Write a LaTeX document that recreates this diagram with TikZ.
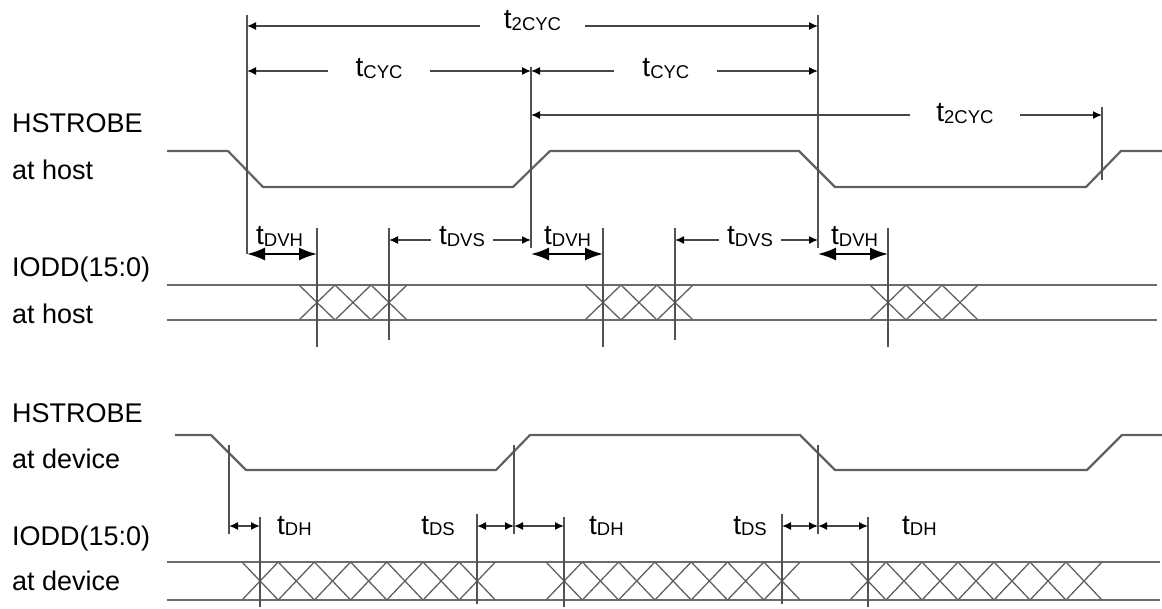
\documentclass[tikz,border=0pt]{standalone}
\usepackage{fontspec}
\setmainfont{Liberation Sans}
\usetikzlibrary{arrows.meta}
\newcommand{\tsub}[1]{{\fontsize{28}{30}\selectfont t\fontsize{18.5}{20}\selectfont\raisebox{-1.5pt}{#1}}}
\begin{document}
\begin{tikzpicture}[x=1pt,y=-1pt,
    wave/.style={draw=black!62,line width=2.2pt,line join=round},
    bus/.style={draw=black!58,line width=2.6pt},
    xline/.style={draw=black!62,line width=1.3pt},
    vline/.style={draw=black!68,line width=1.4pt},
    dim/.style={draw=black!72,line width=1.5pt,<->,>={Latex[length=9pt,width=8pt,color=black]}},
    bigdim/.style={draw=black,line width=1.8pt,<->,>={Latex[length=18pt,width=13pt]}},
    gap/.style={fill=white,inner xsep=#1,inner ysep=2pt,anchor=base},
    gap/.default=26pt,
    sig/.style={font=\fontsize{27}{30}\selectfont,anchor=base west,inner sep=0pt},
    tl/.style={inner sep=0pt}]
  \useasboundingbox (0,0) rectangle (1162,609);

  % signal names
  \node[sig] (hsh) at (12,133) {HSTROBE};
  \node[sig] (hsha) at (12,180) {at host};
  \node[sig] (ddh) at (12,277) {IODD(15:0)};
  \node[sig] (ddha) at (12,324) {at host};
  \node[sig] (hsd) at (12,422) {HSTROBE};
  \node[sig] (hsda) at (12,468) {at device};
  \node[sig] (ddd) at (12,545) {IODD(15:0)};
  \node[sig] (ddda) at (12,590) {at device};

  % waveforms
  \draw[wave] (167,151) -- (228,151) -- (263,187) -- (513,187) -- (550,151)
    -- (799,151) -- (835,187) -- (1086,187) -- (1121,151) -- (1162,151);
  \draw[wave] (175,435) -- (211,435) -- (246,470) -- (496,470) -- (530,435)
    -- (800,435) -- (835,470) -- (1087,470) -- (1122,435) -- (1162,435);
  \draw[bus] (167,285) -- (1157,285);
  \draw[bus] (167,320) -- (1157,320);
  \draw[bus] (167,562) -- (1160,562);
  \draw[bus] (167,600) -- (1160,600);
  \foreach \x in {299,585,870}
    \foreach \i in {0,1,2}
      \draw[xline] ({\x+36*\i},285) -- ({\x+36*\i+36},320)
        ({\x+36*\i},320) -- ({\x+36*\i+36},285);
  \foreach \x/\w in {242/36.2,546/36.3,850/36}
    \foreach \i in {0,...,6}
      \draw[xline] ({\x+\w*\i},562) -- ({\x+\w*\i+\w},600)
        ({\x+\w*\i},600) -- ({\x+\w*\i+\w},562);

  % timing edges, host
  \coordinate (A) at (247,0);
  \coordinate (B) at (531,0);
  \coordinate (C) at (818,0);
  \coordinate (D) at (1102,0);
  \coordinate (h1) at (317,0);
  \coordinate (h2) at (603,0);
  \coordinate (h3) at (888,0);
  \coordinate (s1) at (389,0);
  \coordinate (s2) at (675,0);
  \draw[vline] (A |- 0,15) -- (A |- 0,254);
  \draw[vline] (B |- 0,67) -- (B |- 0,248);
  \draw[vline] (C |- 0,15) -- (C |- 0,248);
  \draw[vline] (D |- 0,107) -- (D |- 0,180);
  \foreach \n in {h1,h2,h3}
    \draw[vline] (\n |- 0,228) -- (\n |- 0,347);
  \foreach \n in {s1,s2}
    \draw[vline] (\n |- 0,228) -- (\n |- 0,340);

  \draw[dim] (A |- 0,26) -- node[gap=24pt,pos=0.5,yshift=-3pt] (cyc2a) {\tsub{2CYC}} (C |- 0,26);
  \draw[dim] (A |- 0,71) -- node[gap=28pt,pos=0.465,yshift=-6pt] (cyca) {\tsub{CYC}} (B |- 0,71);
  \draw[dim] (B |- 0,71) -- node[gap=28pt,pos=0.47,yshift=-6pt] (cycb) {\tsub{CYC}} (C |- 0,71);
  \draw[dim] (B |- 0,115) -- node[gap=26pt,pos=0.76,yshift=-7pt] (cyc2b) {\tsub{2CYC}} (D |- 0,115);

  \draw[bigdim] (A |- 0,254) -- (h1 |- 0,254);
  \draw[bigdim] (B |- 0,254) -- (h2 |- 0,254);
  \draw[bigdim] (C |- 0,254) -- (h3 |- 0,254);
  \node[tl,anchor=base west] (dvha) at (256,245) {\tsub{DVH}};
  \node[tl,anchor=base west] (dvhb) at (544,245) {\tsub{DVH}};
  \node[tl,anchor=base west] (dvhc) at (831,245) {\tsub{DVH}};
  \draw[dim] (s1 |- 0,240) -- node[gap=8pt,pos=0.514,yshift=-5pt] (dvsa) {\tsub{DVS}} (B |- 0,240);
  \draw[dim] (s2 |- 0,240) -- node[gap=8pt,pos=0.524,yshift=-5pt] (dvsb) {\tsub{DVS}} (C |- 0,240);

  % timing edges, device
  \coordinate (Ad) at (229,0);
  \coordinate (Bd) at (514,0);
  \coordinate (Cd) at (818,0);
  \coordinate (dh1) at (260,0);
  \coordinate (dh2) at (564,0);
  \coordinate (dh3) at (868,0);
  \coordinate (ds1) at (477,0);
  \coordinate (ds2) at (782,0);
  \foreach \n in {Ad,Bd,Cd}
    \draw[vline] (\n |- 0,445) -- (\n |- 0,534);
  \foreach \n in {dh1,dh2,dh3}
    \draw[vline] (\n |- 0,517) -- (\n |- 0,607);
  \foreach \n in {ds1,ds2}
    \draw[vline] (\n |- 0,514) -- (\n |- 0,604);
  \draw[dim] (Ad |- 0,526) -- (dh1 |- 0,526);
  \draw[dim] (ds1 |- 0,526) -- (Bd |- 0,526);
  \draw[dim] (Bd |- 0,526) -- (dh2 |- 0,526);
  \draw[dim] (ds2 |- 0,526) -- (Cd |- 0,526);
  \draw[dim] (Cd |- 0,526) -- (dh3 |- 0,526);
  \node[tl,anchor=base west] (dha) at (277,534) {\tsub{DH}};
  \node[tl,anchor=base east] (dsa) at (455,534) {\tsub{DS}};
  \node[tl,anchor=base west] (dhb) at (589,534) {\tsub{DH}};
  \node[tl,anchor=base east] (dsb) at (767,534) {\tsub{DS}};
  \node[tl,anchor=base west] (dhc) at (902,534) {\tsub{DH}};
\end{tikzpicture}
\end{document}
